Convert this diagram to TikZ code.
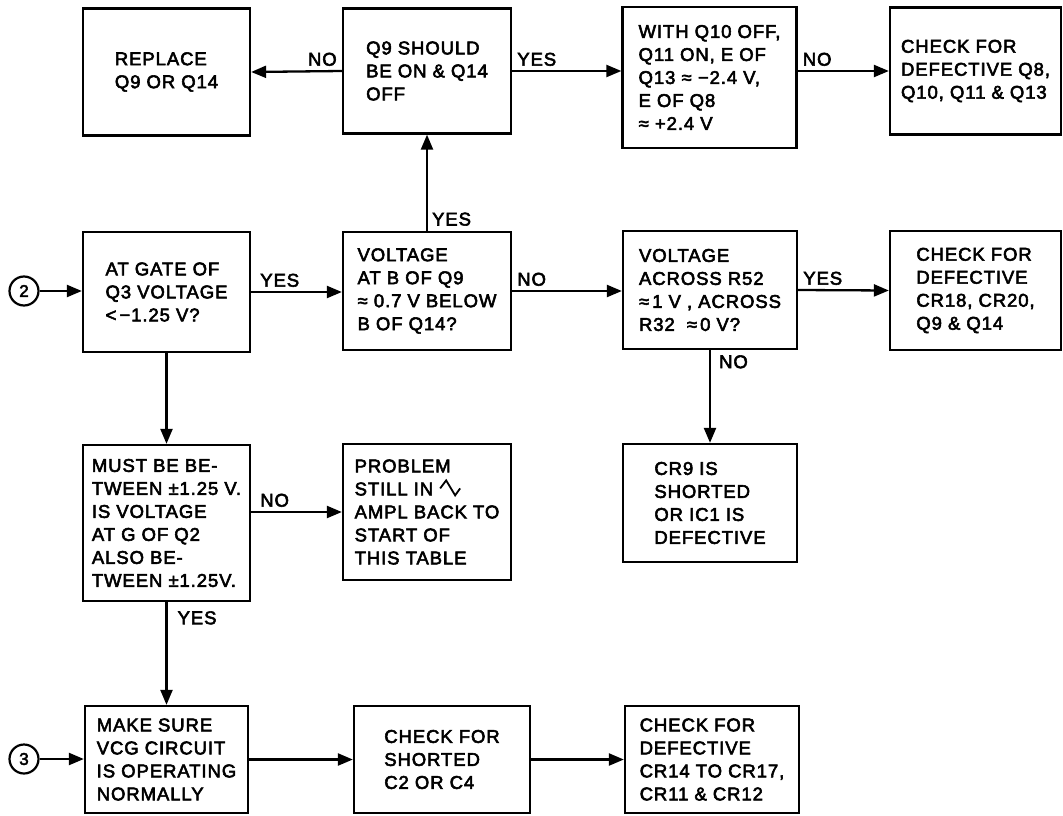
\documentclass[tikz,border=0pt]{standalone}
\usepackage{fontspec}
\setmainfont{Liberation Sans}[LetterSpace=5.0, FakeBold=3]
\usetikzlibrary{arrows.meta,positioning}

\tikzset{
  tbox/.style={draw, rectangle, line width=2.3pt, align=left, inner sep=0pt,
    font=\fontsize{18.5}{23}\selectfont},
  lbl/.style={font=\fontsize{18.5}{23}\selectfont, inner sep=4pt},
  conn/.style={draw, circle, line width=2.2pt, minimum size=29pt, inner sep=0pt,
    font=\fontsize{17}{18}\selectfont},
  flow/.style={line width=2.3pt, -{Triangle[length=15pt, width=12pt]}},
}
% zig-zag wave sign used inside the text
\newcommand{\wavesign}{\tikz[baseline=0pt, x=1pt, y=1pt]
  \draw[line width=1.8pt, line join=miter] (0,7) -- (6,15) -- (15,0) -- (20,7);}

\begin{document}
\begin{tikzpicture}[x=1pt, y=-1pt]
    \useasboundingbox (0,0) rectangle (1063,816);

    % Top row
    \node[tbox, minimum width=167pt, minimum height=127pt] (replace) at (166.5, 72) {REPLACE\\Q9 OR Q14};
    \node[tbox, minimum width=168pt, minimum height=125pt] (should) at (427, 71) {Q9 SHOULD\\BE ON \& Q14\\OFF};
    \node[tbox, minimum width=174pt, minimum height=141pt] (withq) at (709.5, 77.5) {WITH Q10 OFF,\\Q11 ON, E OF\\Q13\,\,≈\,\,−2.4 V,\\E OF Q8\\≈\,\,+2.4 V};
    \node[tbox, minimum width=171pt, minimum height=127pt] (checkq) at (975.5, 71) {CHECK FOR\\DEFECTIVE Q8,\\Q10, Q11 \& Q13};

    % Second row
    \node[conn] (two) at (24, 291) {2};
    \node[tbox, minimum width=167pt, minimum height=120pt] (gate) at (166.5, 292) {AT GATE OF\\Q3 VOLTAGE\\<\,−1.25 V?};
    \node[tbox, minimum width=168pt, minimum height=118pt] (voltb) at (427, 291) {VOLTAGE\\AT B OF Q9\\≈\,\,0.7 V BELOW\\B OF Q14?};
    \node[tbox, minimum width=174pt, minimum height=118pt] (across) at (710, 290) {VOLTAGE\\ACROSS R52\\≈\,1 V , ACROSS\\R32 \ ≈\,0 V?};
    \node[tbox, minimum width=171pt, minimum height=119pt] (checkcr) at (975.5, 290.5) {CHECK FOR\\DEFECTIVE\\CR18, CR20,\\Q9 \& Q14};

    % Third row
    \node[tbox, minimum width=167pt, minimum height=156pt] (must) at (166.5, 523) {MUST BE BE-\\TWEEN ±1.25 V.\\IS VOLTAGE\\AT G OF Q2\\ALSO BE-\\TWEEN ±1.25V.};
    \node[tbox, minimum width=168pt, minimum height=136pt] (problem) at (427, 512) {PROBLEM\\STILL IN \wavesign\\AMPL BACK TO\\START OF\\THIS TABLE};
    \node[tbox, minimum width=174pt, minimum height=118pt] (crnine) at (710, 503) {CR9 IS\\SHORTED\\OR IC1 IS\\DEFECTIVE};

    % Bottom row
    \node[conn] (three) at (24, 759) {3};
    \node[tbox, minimum width=163pt, minimum height=107pt] (makesure) at (166.5, 759.5) {MAKE SURE\\VCG CIRCUIT\\IS OPERATING\\NORMALLY};
    \node[tbox, minimum width=176pt, minimum height=107pt] (shorted) at (442, 759.5) {CHECK FOR\\SHORTED\\C2 OR C4};
    \node[tbox, minimum width=174pt, minimum height=107pt] (crfourteen) at (712, 759.5) {CHECK FOR\\DEFECTIVE\\CR14 TO CR17,\\CR11 \& CR12};

    % Connectors
    \draw[flow] (should.west) -- node[lbl, pos=0, anchor=south east] (noreplace) {NO} (replace.east);
    \draw[flow] (should.east) -- node[lbl, pos=0, anchor=south west] (yeswith) {YES} (should.east -| withq.west);
    \draw[flow] (withq.east |- checkq.west) -- node[lbl, pos=0, anchor=south west] (nocheckq) {NO} (checkq.west);
    \draw[flow] (voltb.north) -- node[lbl, pos=0, anchor=south west] (yesshould) {YES} (should.south);

    \draw[flow] (two) -- (gate.west |- two);
    \draw[flow] (gate.east) -- node[lbl, pos=0, anchor=south west, xshift=4pt] (yesvolt) {YES} (gate.east -| voltb.west);
    \draw[flow] (voltb.east) -- node[lbl, pos=0, anchor=south west] (noacross) {NO} (voltb.east -| across.west);
    \draw[flow] (across.east) -- node[lbl, pos=0, anchor=south west] (yescheckcr) {YES} (checkcr.west);
    \draw[flow] (across.south) -- node[lbl, pos=0, anchor=north west, xshift=4pt] (nocrnine) {NO} (across.south |- crnine.north);

    \draw[flow] (gate.south) -- (must.north);
    \draw[flow] (must.east |- problem.west) -- node[lbl, pos=0, anchor=south west, xshift=4pt] (noproblem) {NO} (problem.west);
    \draw[flow] (must.south) -- node[lbl, pos=0, anchor=north west, xshift=6pt, yshift=-4pt] (yesmake) {YES} (makesure.north);

    \draw[flow] (three) -- (makesure.west |- three);
    \draw[flow] (makesure.east) -- (shorted.west);
    \draw[flow] (shorted.east) -- (crfourteen.west);
\end{tikzpicture}
\end{document}
